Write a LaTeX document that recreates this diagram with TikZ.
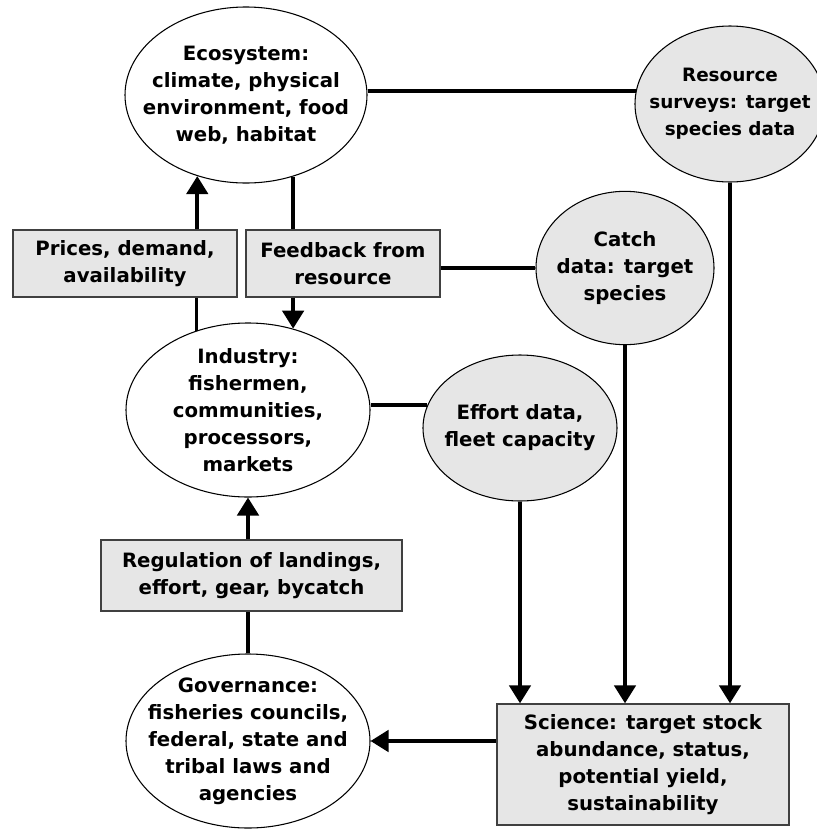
\documentclass[tikz,border=0pt]{standalone}
\usepackage{fontspec}
\setmainfont{DejaVu Sans}
\usetikzlibrary{shapes.geometric,arrows.meta}
\definecolor{boxgray}{HTML}{E6E6E6}

\begin{document}
\begin{tikzpicture}[x=0.75pt,y=-0.75pt,
  ell/.style={ellipse,draw,line width=0.8pt,inner sep=0pt},
  txt/.style={align=center,inner sep=0pt,font=\bfseries\fontsize{14.8}{20.3}\selectfont},
  box/.style={rectangle,draw=black!75,line width=1pt,fill=boxgray,txt},
  conn/.style={line width=2.8pt},
  arr/.style={conn,-{Triangle[length=13.5pt,width=16pt]}}]

\useasboundingbox (0,0) rectangle (817,829);

%ellipses, left column
\node[ell,fill=white,minimum width=181.5pt,minimum height=132pt] (eco) at (246,95) {};
\node[txt] (eco-t) at (eco) {Ecosystem:\\climate, physical\\environment, food\\web, habitat};
\node[ell,fill=white,minimum width=183pt,minimum height=130.5pt] (ind) at (248,410) {};
\node[txt] (ind-t) at (ind) {Industry:\\fishermen,\\communities,\\processors,\\markets};
\node[ell,fill=white,minimum width=183pt,minimum height=130.5pt] (gov) at (248,741) {};
\node[txt] (gov-t) at (gov) {Governance:\\fisheries councils,\\federal, state and\\tribal laws and\\agencies};

%data ellipses
\node[ell,fill=boxgray,minimum width=142.5pt,minimum height=117pt] (res) at (730,104) {};
\node[txt,font=\bfseries\fontsize{13.8}{20.3}\selectfont] (res-t) at (res) {Resource\\surveys: target\\species data};
\node[ell,fill=boxgray,minimum width=133.5pt,minimum height=115pt] (cat) at (625,268) {};
\node[txt] (cat-t) at (cat) {Catch\\data: target\\species};
\node[ell,fill=boxgray,minimum width=145.5pt,minimum height=109.5pt] (eff) at (520,428) {};
\node[txt] (eff-t) at (eff) {Effort data,\\fleet capacity};

%boxes
\node[box,minimum width=168pt,minimum height=50.25pt] (prices) at (125,263.5) {Prices, demand,\\availability};
\node[box,minimum width=145.5pt,minimum height=50.25pt] (fb) at (343,263.5) {Feedback from\\resource};
\node[box,minimum width=225.75pt,minimum height=53.25pt] (reg) at (251.5,575.5) {Regulation of landings,\\effort, gear, bycatch};
\node[box,minimum width=219pt,minimum height=90.75pt] (sci) at (643,764.5) {Science: target stock\\abundance, status,\\potential yield,\\sustainability};

%loop between ecosystem and industry
\draw[arr] (prices.north -| eco.239) -- (eco.239);
\draw[conn] (ind.123) -- (ind.123 |- prices.south);
\draw[conn] (eco.300) -- (eco.300 |- fb.north);
\draw[arr] (fb.south -| ind.61) -- (ind.61);

%links to the data
\draw[conn] (eco.east |- res.172) -- (res.172);
\draw[conn] (fb.east |- cat.west) -- (cat.west);
\draw[conn] (ind.east |- eff.166) -- (eff.166);

%into science
\draw[arr] (eff.south) -- (eff.south |- sci.north);
\draw[arr] (cat.south) -- (cat.south |- sci.north);
\draw[arr] (res.south) -- (res.south |- sci.north);

%management
\draw[arr] (sci.west |- gov.east) -- (gov.east);
\draw[conn] (gov.north) -- (gov.north |- reg.south);
\draw[arr] (reg.north -| ind.south) -- (ind.south);
\end{tikzpicture}
\end{document}
